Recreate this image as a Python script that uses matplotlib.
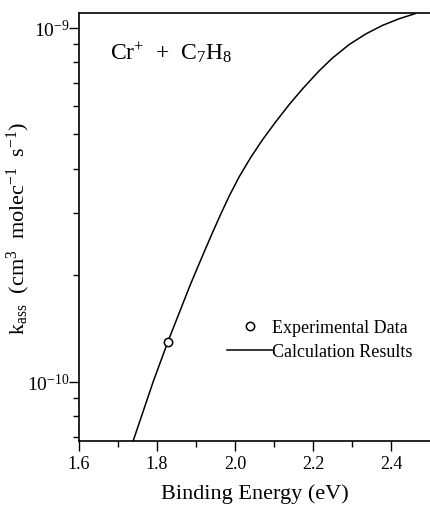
import numpy as np
import matplotlib
matplotlib.use('Agg')
import matplotlib.pyplot as plt

plt.rcParams['font.family'] = ['Liberation Serif', 'DejaVu Serif']
plt.rcParams['mathtext.fontset'] = 'custom'
plt.rcParams['mathtext.rm'] = 'Liberation Serif'
plt.rcParams['mathtext.it'] = 'Liberation Serif:italic'

# calculation curve
energy = [1.7388, 1.7898, 1.8281, 1.8835, 1.9006, 1.9218, 1.9430, 1.9645,
          1.9857, 2.0112, 2.0411, 2.0708, 2.1050, 2.1390, 2.1729, 2.2156,
          2.2496, 2.2923, 2.3349, 2.3773, 2.4199, 2.4626]
k_calc = [6.81e-11, 9.98e-11, 1.300e-10, 1.858e-10, 2.061e-10, 2.339e-10,
          2.649e-10, 2.992e-10, 3.357e-10, 3.802e-10, 4.315e-10, 4.831e-10,
          5.433e-10, 6.067e-10, 6.714e-10, 7.551e-10, 8.204e-10, 8.954e-10,
          9.594e-10, 1.014e-9, 1.059e-9, 1.096e-9]

# experimental point
e_exp = [1.828]
k_exp = [1.294e-10]

fig = plt.figure(figsize=(4.30, 5.06), dpi=100)
ax = fig.add_axes([0.1837, 0.1265, 0.8163, 0.8458])

ax.plot(energy, k_calc, color='black', lw=1.1, label='Calculation Results')
ax.plot(e_exp, k_exp, 'o', mfc='white', mec='black', ms=6, mew=1.1,
        label='Experimental Data', zorder=3)

ax.set_yscale('log')
ax.set_xlim(1.6, 2.5)
ax.set_ylim(6.81e-11, 1.10e-9)
ax.set_xticks([1.6, 1.8, 2.0, 2.2, 2.4])
ax.set_xticks(np.arange(1.7, 2.5, 0.2), minor=True)
ax.set_xticklabels(['1.6', '1.8', '2.0', '2.2', '2.4'])
ax.set_yticks([1e-10, 1e-9])
ax.set_yticklabels(['10$^{-10}$', '10$^{-9}$'])

ax.spines['right'].set_visible(False)
for s in ['left', 'bottom', 'top']:
    ax.spines[s].set_linewidth(1.2)
ax.tick_params(which='major', length=7, width=1, direction='out')
ax.tick_params(which='minor', length=4, width=1, direction='out')
ax.tick_params(axis='x', labelsize=13, pad=3)
ax.tick_params(axis='y', labelsize=14, pad=0)
ax.tick_params(axis='y', which='minor', labelleft=False)

ax.set_xlabel('Binding Energy (eV)', fontsize=16, labelpad=8)
ax.set_ylabel('k$_{\\rm ass}$  (cm$^{3}$  molec$^{-1}$  s$^{-1}$)', fontsize=16)
ax.yaxis.set_label_coords(-0.134, 0.5)

ax.text(0.088, 0.91, 'Cr$^{+}$  +  C$_7$H$_8$', transform=ax.transAxes,
        fontsize=17, va='center', ha='left')

h, l = ax.get_legend_handles_labels()
ax.legend([h[1], h[0]], [l[1], l[0]], loc='upper left',
          bbox_to_anchor=(0.423, 0.285), frameon=False, fontsize=13,
          handlelength=2.45, handletextpad=0.0, labelspacing=0.4,
          borderpad=0, borderaxespad=0)

plt.savefig('out.png', dpi=100)
